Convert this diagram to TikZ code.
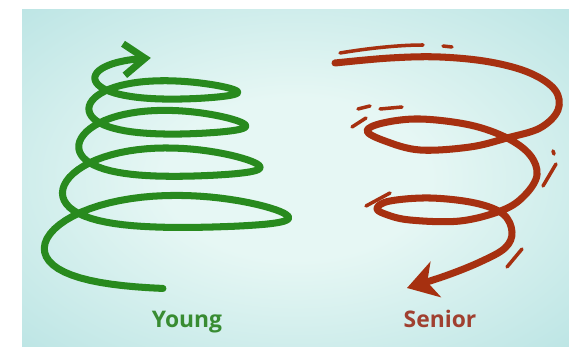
\documentclass[tikz,border=0pt]{standalone}
\usepackage{fontspec}
\setmainfont{Open Sans}
\usepackage{xcolor}
\usepackage{tikz}
\usetikzlibrary{arrows.meta}
\definecolor{bgEdge}{RGB}{150,212,214}
\definecolor{bgMid}{RGB}{230,247,244}
\definecolor{youngGreen}{RGB}{40,138,30}
\definecolor{seniorRed}{RGB}{166,48,16}
\definecolor{youngText}{RGB}{56,140,50}
\definecolor{seniorText}{RGB}{160,64,48}
\pgfdeclareradialshading{bgGlow}{\pgfpoint{0bp}{0bp}}{color(0bp)=(bgMid); color(12bp)=(bgMid); color(58bp)=(bgEdge); color(80bp)=(bgEdge)}
\tikzset{
    young/.style={draw=youngGreen, line width=4pt, line cap=round, line join=round},
    senior/.style={draw=seniorRed, line width=4pt, line cap=round, line join=round},
    streak/.style={draw=seniorRed, line width=2pt, line cap=round},
    caption/.style={font=\fontsize{13}{15}\selectfont\bfseries, anchor=base}
}

\begin{document}
\begin{tikzpicture}[x=0.02cm, y=-0.02cm]
        \useasboundingbox (0,0) rectangle (569,347);
        \fill[white] (0,0) rectangle (569,347);
        \shade[shading=bgGlow] (22,10) rectangle (569,347);

        % coil widening towards the bottom
        \draw[young, -{Straight Barb[length=12pt, width=18pt]}]
            plot[domain=0.278:4.72, samples=300, variable=\t]
            ({165 + 15*exp(-2*(\t-0.5)) + (62 + 56*exp(-0.55*(\t-1)))*cos(360*\t)},
             {-58 + 306*exp(-0.203*(\t-0.5)) + (34 - 4.4*\t)*sin(360*\t)*(1 - 0.25*cos(360*\t)) - (8 - 1.6*\t)*pow(sin(360*\t),2)});

        % loose spiral falling down
        \draw[senior, -{Stealth[length=17pt, width=21pt, inset=5pt]}]
            plot[smooth, tension=0.6] coordinates {
                (335,63) (390,58) (440,57) (490,62) (530,73) (555,90) (558,110)
                (540,128) (507,138) (470,147) (420,150) (385,141) (367,131)
                (383,123) (420,119) (470,125) (507,138) (530,155) (537,175)
                (525,195) (503,210) (460,221) (410,220) (385,214) (377,208)
                (390,201) (430,198) (475,203) (503,214) (512,232) (505,248)
                (480,262) (445,276) (407,288)};

        % motion streaks
        \draw[streak] (340,53) .. controls (370,48) and (400,45) .. (423,45);
        \draw[streak] (443,46) -- (452,47);
        \draw[streak] (358,109) -- (370,106);
        \draw[streak] (380,109) -- (402,107);
        \draw[streak] (352,127) -- (366,118);
        \draw[streak] (553,151) -- (554,154);
        \draw[streak] (543,186) -- (556,164);
        \draw[streak] (366,206) -- (390,193);
        \draw[streak] (507,267) -- (522,249);

        \node[caption, text=youngText] (Young) at (187,328) {Young};
        \node[caption, text=seniorText] (Senior) at (440,328) {Senior};
    \end{tikzpicture}
\end{document}
